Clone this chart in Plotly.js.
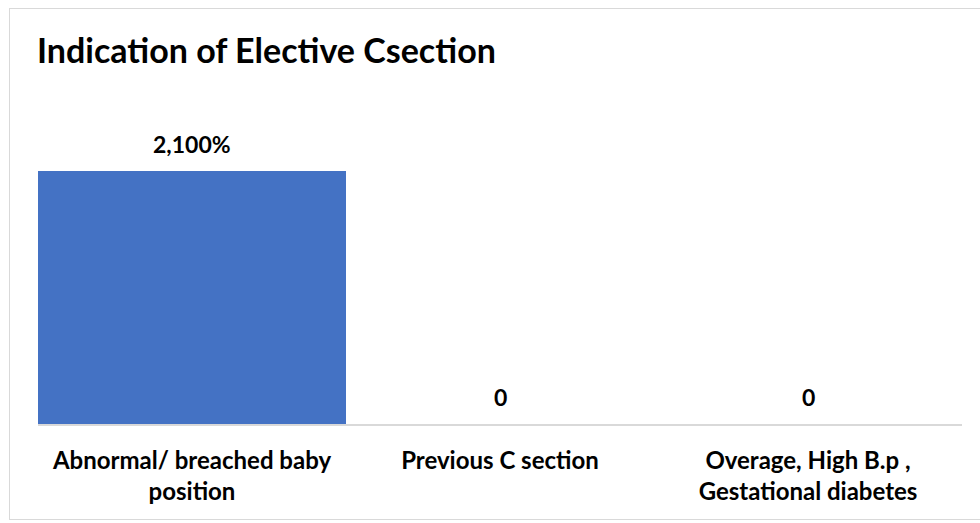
<!DOCTYPE html>
<html>
<head>
<meta charset="utf-8">
<script src="https://cdn.plot.ly/plotly-3.0.1.min.js"></script>
<style>
  html, body { margin: 0; padding: 0; background: #ffffff; }
  #wrap { position: relative; width: 980px; height: 523px; overflow: hidden; }
  #frame { position: absolute; left: 9px; top: 8px; width: 990px; height: 512px;
           border: 1.5px solid #d9d9d9; box-sizing: border-box; pointer-events: none; }
  #chart { position: absolute; left: 0; top: 0; width: 980px; height: 523px; }
</style>
</head>
<body>
<div id="wrap">
  <div id="chart"></div>
  <div id="frame"></div>
</div>
<script>
// Indications for elective caesarean section
const categories = [
  "Abnormal/ breached baby<br>position",
  "Previous C section",
  "Overage, High B.p ,<br>Gestational diabetes"
];
const values = [2100, 0, 0];
const valueLabels = ["2,100%", "0", "0"];

const FONT = "Lato, 'Open Sans', sans-serif";

const trace = {
  type: "bar",
  x: categories,
  y: values,
  marker: { color: "#4472C4" },
  hoverinfo: "x+y"
};

const annotations = categories.map((c, i) => ({
  x: c,
  y: values[i],
  xref: "x",
  yref: "y",
  text: valueLabels[i],
  showarrow: false,
  yanchor: "bottom",
  yshift: 11,
  font: { family: FONT, size: 23, color: "#000000", weight: 700 }
}));

const layout = {
  width: 980,
  height: 523,
  margin: { l: 38, r: 18, t: 90, b: 99 },
  paper_bgcolor: "#ffffff",
  plot_bgcolor: "#ffffff",
  bargap: 0,
  showlegend: false,
  title: {
    text: "<b>Indication of Elective Csection</b>",
    x: 37 / 980,
    xanchor: "left",
    xref: "container",
    y: 1 - 51 / 523,
    yanchor: "middle",
    yref: "container",
    font: { family: FONT, size: 34, color: "#000000" }
  },
  xaxis: {
    type: "category",
    showgrid: false,
    zeroline: false,
    showline: true,
    linecolor: "#d9d9d9",
    linewidth: 2,
    ticks: "outside",
    ticklen: 14,
    tickcolor: "rgba(0,0,0,0)",
    tickfont: { family: FONT, size: 24, color: "#000000", weight: 700 }
  },
  yaxis: {
    range: [0, 2772],
    visible: false,
    showgrid: false,
    zeroline: false,
    fixedrange: true
  },
  annotations: annotations
};

Plotly.newPlot("chart", [trace], layout, { displayModeBar: false, staticPlot: true });
</script>
</body>
</html>
